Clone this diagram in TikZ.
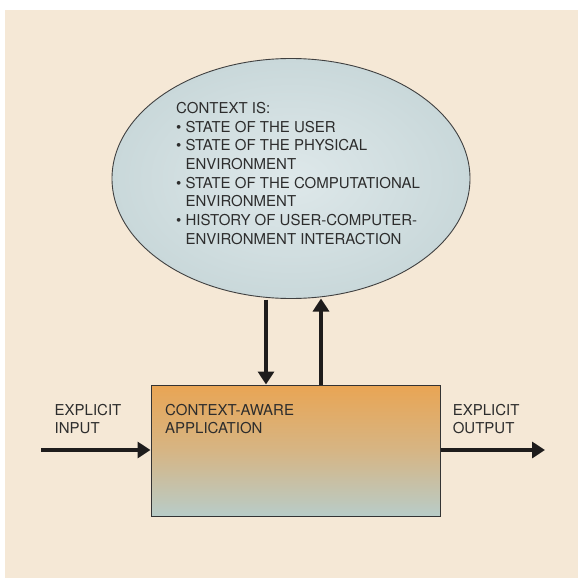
\documentclass[tikz,border=0pt]{standalone}
\usepackage{fontspec}
\setmainfont{TeX Gyre Heros}
\usetikzlibrary{arrows.meta,shapes.geometric}
\definecolor{bgcol}{RGB}{245,232,214}
\definecolor{ellin}{RGB}{222,232,234}
\definecolor{ellout}{RGB}{180,200,202}
\definecolor{boxtop}{RGB}{233,165,84}
\definecolor{boxmid}{RGB}{214,181,132}
\definecolor{boxbot}{RGB}{184,204,200}
\definecolor{txt}{RGB}{45,45,45}
\definecolor{arr}{RGB}{30,28,28}
\pgfdeclareradialshading{ctxshade}{\pgfpoint{0bp}{0bp}}{color(0bp)=(ellin); color(50bp)=(ellout); color(100bp)=(ellout)}
\newcommand{\lines}[1]{\begin{tabular}[t]{@{}l@{}}#1\end{tabular}}
\tikzset{
  lbl/.style={anchor=base west, inner sep=0pt, text=txt, font=\fontsize{15}{18.7}\selectfont},
  flow/.style={draw=arr, line width=4pt, -{Triangle[length=13pt,width=16pt]}},
}
\begin{document}
\begin{tikzpicture}[x=1pt,y=-1pt]
\useasboundingbox (0,0) rectangle (578,578);
\fill[bgcol] (5,10) rectangle (578,578);
\node[ellipse, draw=black!75, line width=0.9pt, shading=ctxshade, minimum width=358pt, minimum height=240pt, inner sep=0pt] (ctx) at (291,178.5) {};
\node[lbl] (ctxtext) at (176,113.3) {\lines{CONTEXT IS:\\
\textbullet\ STATE OF THE USER\\
\textbullet\ STATE OF THE PHYSICAL\\
\phantom{\textbullet\ }ENVIRONMENT\\
\textbullet\ STATE OF THE COMPUTATIONAL\\
\phantom{\textbullet\ }ENVIRONMENT\\
\textbullet\ HISTORY OF USER-COMPUTER-\\
\phantom{\textbullet\ }ENVIRONMENT INTERACTION}};
\node[draw=black!80, line width=1pt, top color=boxtop, bottom color=boxbot, middle color=boxmid, minimum width=289pt, minimum height=131pt, inner sep=0pt] (app) at (295.5,450.5) {};
\node[lbl] (apptext) at (165,415) {\lines{CONTEXT-AWARE\\APPLICATION}};
\node[lbl] (intext) at (54.5,415) {\lines{EXPLICIT\\INPUT}};
\node[lbl] (outtext) at (452.6,415) {\lines{EXPLICIT\\OUTPUT}};
\coordinate (instart) at (41,450);
\coordinate (outend) at (545,450);
\coordinate (downx) at (266,299.5);
\coordinate (upx) at (321,298.5);
\draw[flow] (instart) -- (app.west |- instart);
\draw[flow] (app.east |- outend) -- (outend);
\draw[flow] (downx) -- (app.north -| downx);
\draw[flow] (app.north -| upx) -- (upx);
\end{tikzpicture}
\end{document}
